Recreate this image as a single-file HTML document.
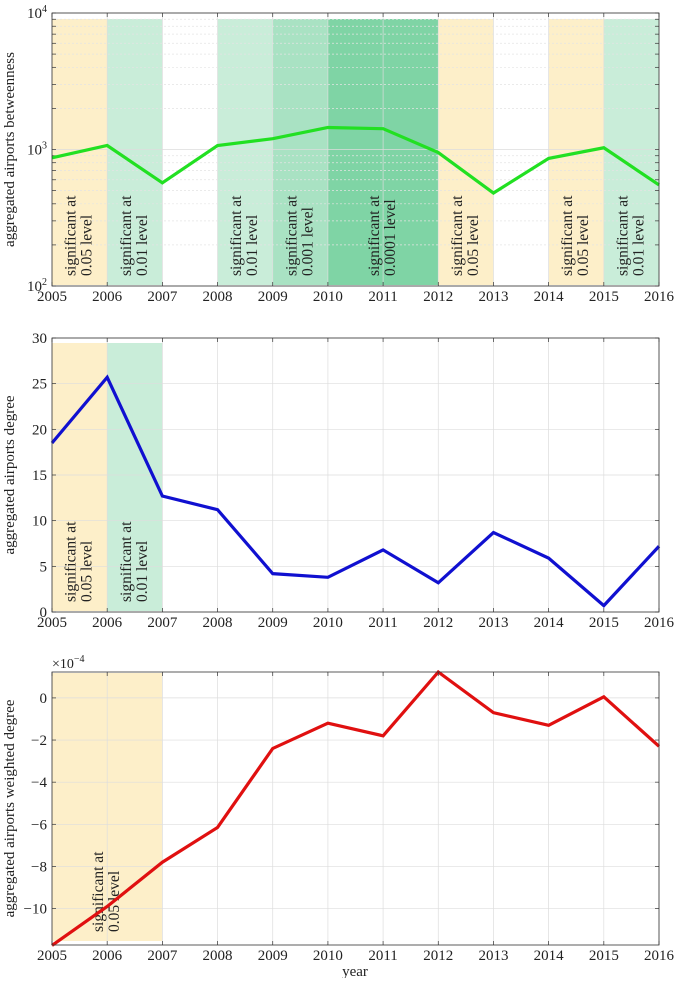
<!DOCTYPE html>
<html><head><meta charset="utf-8"><style>
body{margin:0;background:#fff;}
svg text{font-family:"Liberation Serif",serif;fill:#222;}
</style></head><body>
<svg id="c" width="676" height="978" xmlns="http://www.w3.org/2000/svg"></svg>
<script>
const years=[2005,2006,2007,2008,2009,2010,2011,2012,2013,2014,2015,2016];
const betweenness=[870,1070,570,1070,1200,1450,1420,950,480,860,1030,550];
const degree=[18.5,25.7,12.7,11.2,4.2,3.8,6.8,3.2,8.7,5.9,0.7,7.2];
const weighted=[-11.75,-9.9,-7.8,-6.15,-2.4,-1.2,-1.8,1.23,-0.7,-1.3,0.05,-2.3];
const bandsTop=[[2005,2006,'0.05'],[2006,2007,'0.01'],[2008,2009,'0.01'],[2009,2010,'0.001'],[2010,2012,'0.0001'],[2012,2013,'0.05'],[2014,2015,'0.05'],[2015,2016,'0.01']];
const bandsMid=[[2005,2006,'0.05'],[2006,2007,'0.01']];
const bandsBot=[[2005,2007,'0.05']];
const degTicks=[0,5,10,15,20,25,30];
const wTicks=[0,-2,-4,-6,-8,-10];

const NS='http://www.w3.org/2000/svg';
const svg=document.getElementById('c');
function el(t,a,p){const e=document.createElementNS(NS,t);for(const k in a)e.setAttribute(k,a[k]);(p||svg).appendChild(e);return e;}
const X0=52,X1=659;
const x=v=>X0+(v-2005)*(X1-X0)/11;
const bandColor={'0.05':'#fdefc9','0.01':'#c9edd9','0.001':'#a9e2c3','0.0001':'#7fd4a5'};

function panel(name,top,bot,yf,bands,bandTop,bandBot,ticks,vals,color,ylabel){
  const g=el('g',{});
  
  
  bands.forEach(b=>{
    const r=el('rect',{x:x(b[0]),y:bandTop,width:x(b[1])-x(b[0]),height:bandBot-bandTop,fill:bandColor[b[2]]},g);
    
    
  });
  years.forEach(yv=>{el('line',{x1:x(yv),x2:x(yv),y1:top,y2:bot,stroke:'#ddd','stroke-width':0.7},g);});
  ticks.forEach(t=>{el('line',{x1:X0,x2:X1,y1:t.y,y2:t.y,stroke:t.minor?'#e4e4e4':'#ddd','stroke-width':0.7,'stroke-dasharray':t.minor?'2,2':''},g);
    el('line',{x1:X0,x2:X0+4,y1:t.y,y2:t.y,stroke:'#333','stroke-width':0.7},g);
    el('line',{x1:X1-4,x2:X1,y1:t.y,y2:t.y,stroke:'#333','stroke-width':0.7},g);
    if(t.label!==undefined){const tx=el('text',{x:X0-5,y:t.y+5,'text-anchor':'end','font-size':15},g);tx.innerHTML=t.label;
      }
  });
  bands.forEach(b=>{
    const cx=(x(b[0])+x(b[1]))/2;
    const t=el('text',{transform:`translate(${cx-4},${bandBot-9}) rotate(-90)`,'font-size':15.5},g);
    
    
    const a=el('tspan',{x:0,dy:0},t);a.textContent='significant at';
    const c=el('tspan',{x:0,dy:16},t);c.textContent=b[2]+' level';
  });
  const pts=vals.map((v,i)=>x(years[i])+','+yf(v)).join(' ');
  const pl=el('polyline',{points:pts,fill:'none',stroke:color,'stroke-width':3.2,'stroke-linejoin':'miter'},g);
  
  
  el('rect',{x:X0,y:top,width:X1-X0,height:bot-top,fill:'none',stroke:'#333','stroke-width':0.8},g);
  years.forEach(yv=>{
    el('line',{x1:x(yv),x2:x(yv),y1:bot,y2:bot-4,stroke:'#333','stroke-width':0.7},g);
    el('line',{x1:x(yv),x2:x(yv),y1:top,y2:top+4,stroke:'#333','stroke-width':0.7},g);
    const t=el('text',{x:x(yv),y:bot+15,'text-anchor':'middle','font-size':15},g);t.textContent=yv;
    
  });
  const yl=el('text',{transform:`translate(14,${(top+bot)/2}) rotate(-90)`,'text-anchor':'middle','font-size':15},g);
  yl.textContent=ylabel;
  
}
const T0=13,T1=286;
const yTop=v=>T1-(Math.log10(v)-2)*(T1-T0)/2;
const tTicks=[];
for(let d=2;d<=3;d++)for(let m=1;m<=9;m++){const v=m*Math.pow(10,d);tTicks.push({y:yTop(v),minor:m!==1,label:m===1?`10<tspan dy="-6" font-size="10">${d}</tspan>`:undefined});}
tTicks.push({y:yTop(10000),label:'10<tspan dy="-6" font-size="10">4</tspan>'});
panel('betweenness',T0,T1,yTop,bandsTop,19,285,tTicks,betweenness,'#22e022','aggregated airports betweenness');
const M0=338,M1=612;
const yMid=v=>M1-v*(M1-M0)/30;
panel('degree',M0,M1,yMid,bandsMid,343,611,degTicks.map(v=>({y:yMid(v),label:v})),degree,'#1010d0','aggregated airports degree');
const B0=672,B1=945,Bmin=-11.73,Bmax=1.23;
const yBot=v=>B1-(v-Bmin)*(B1-B0)/(Bmax-Bmin);
panel('weighted-degree',B0,B1,yBot,bandsBot,673,941,wTicks.map(v=>({y:yBot(v),label:v<0?'\u2212'+(-v):v})),weighted,'#e01010','aggregated airports weighted degree');
const ex=el('text',{x:52,y:668,'font-size':14});ex.innerHTML='\u00d710<tspan dy="-6" font-size="10">\u22124</tspan>';

const xt=el('text',{x:355,y:976,'text-anchor':'middle','font-size':15});xt.textContent='year';

</script>
</body></html>
